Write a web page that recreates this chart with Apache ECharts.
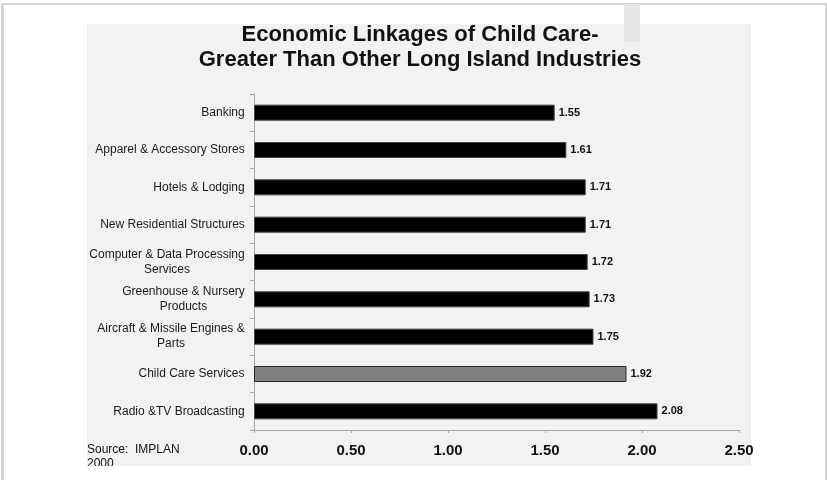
<!DOCTYPE html>
<html>
<head>
<meta charset="utf-8">
<script src="https://cdn.jsdelivr.net/npm/echarts@6/dist/echarts.min.js"></script>
<style>html,body{margin:0;padding:0;background:#fff;}#c{width:827px;height:480px;}</style>
</head>
<body>
<div id="c"></div>
<script>
var categories = [
  'Banking',
  'Apparel & Accessory Stores',
  'Hotels & Lodging',
  'New Residential Structures',
  'Computer & Data Processing\nServices',
  'Greenhouse & Nursery\nProducts',
  'Aircraft & Missile Engines &\nParts',
  'Child Care Services',
  'Radio &TV Broadcasting'
];
var values = [1.55, 1.61, 1.71, 1.71, 1.72, 1.73, 1.75, 1.92, 2.08];
var highlightCategory = 'Child Care Services';
var xTicks = [0, 0.5, 1.0, 1.5, 2.0, 2.5];
var titleLines = ['Economic Linkages of Child Care-', 'Greater Than Other Long Island Industries'];
var sourceText = 'Source:  IMPLAN\n2000';

var chart = echarts.init(document.getElementById('c'), null, {renderer: 'canvas'});
var font = 'Liberation Sans, Arial, Helvetica, sans-serif';
var labelFont = '12px ' + font;

// measure label lines so multi-line labels are centred within their block
var mctx = document.createElement('canvas').getContext('2d');
mctx.font = labelFont;
var rich = {};
categories.forEach(function (c, i) {
  var lines = c.split('\n');
  var w = 0;
  lines.forEach(function (l) { w = Math.max(w, Math.ceil(mctx.measureText(l).width)); });
  rich['r' + i] = {width: w, align: 'center', fontSize: 12, lineHeight: 15, color: '#1a1a1a', fontFamily: font};
});

var seriesData = values.map(function (v, i) {
  var hi = categories[i] === highlightCategory;
  return {
    value: v,
    itemStyle: {
      color: hi ? '#808080' : '#000000',
      borderColor: hi ? '#2a2a2a' : '#444444',
      borderWidth: 1
    }
  };
});

var option = {
  backgroundColor: '#ffffff',
  animation: false,
  textStyle: {fontFamily: font},
  graphic: [
    {type: 'rect', z: -10, silent: true, shape: {x: 1, y: 3, width: 826, height: 2}, style: {fill: '#d4d4d4'}},
    {type: 'rect', z: -10, silent: true, shape: {x: 1, y: 3, width: 3, height: 477}, style: {fill: '#d4d4d4'}},
    {type: 'rect', z: -10, silent: true, shape: {x: 825, y: 3, width: 2, height: 477}, style: {fill: '#d4d4d4'}},
    {type: 'rect', z: -9, silent: true, shape: {x: 87, y: 24, width: 664, height: 442}, style: {fill: '#f2f2f2'}},
    {type: 'rect', z: -8, silent: true, shape: {x: 624, y: 4, width: 16, height: 38}, style: {fill: '#e6e7e9'}},
    {type: 'text', z: 10, silent: true, x: 420, y: 22,
      style: {text: titleLines.join('\n'), fill: '#111111', font: 'bold 22px ' + font, lineHeight: 25, align: 'center', verticalAlign: 'top'}},
    {type: 'text', z: 10, silent: true, x: 87, y: 443,
      style: {text: sourceText, fill: '#111111', font: '12px ' + font, lineHeight: 14, align: 'left', verticalAlign: 'top'}},
    {type: 'rect', z: 11, silent: true, shape: {x: 80, y: 466, width: 200, height: 14}, style: {fill: '#ffffff'}}
  ],
  grid: {left: 254, right: 88, top: 94, bottom: 50, containLabel: false},
  xAxis: {
    type: 'value',
    min: xTicks[0],
    max: xTicks[xTicks.length - 1],
    interval: 0.5,
    splitLine: {show: false},
    axisLine: {show: true, lineStyle: {color: '#a6a6a6', width: 1}},
    axisTick: {show: true, length: 3, lineStyle: {color: '#a6a6a6'}},
    axisLabel: {
      margin: 13,
      fontSize: 15,
      fontWeight: 'bold',
      color: '#111111',
      fontFamily: font,
      formatter: function (v) { return v.toFixed(2); }
    }
  },
  yAxis: {
    type: 'category',
    data: categories,
    inverse: true,
    axisLine: {show: true, lineStyle: {color: '#a6a6a6', width: 1}},
    axisTick: {show: true, length: 4, lineStyle: {color: '#a6a6a6'}},
    axisLabel: {
      margin: 9,
      fontSize: 12,
      lineHeight: 15,
      color: '#1a1a1a',
      fontFamily: font,
      align: 'right',
      rich: rich,
      formatter: function (val, idx) {
        var i = categories.indexOf(val);
        return val.split('\n').map(function (l) { return '{r' + i + '|' + l + '}'; }).join('\n');
      }
    }
  },
  series: [{
    type: 'bar',
    data: seriesData,
    barWidth: 16,
    label: {
      show: true,
      position: 'right',
      distance: 4,
      fontSize: 11,
      fontWeight: 'bold',
      color: '#111111',
      fontFamily: font,
      formatter: function (p) { return p.value.toFixed(2); }
    }
  }]
};
chart.setOption(option);
</script>
</body>
</html>
